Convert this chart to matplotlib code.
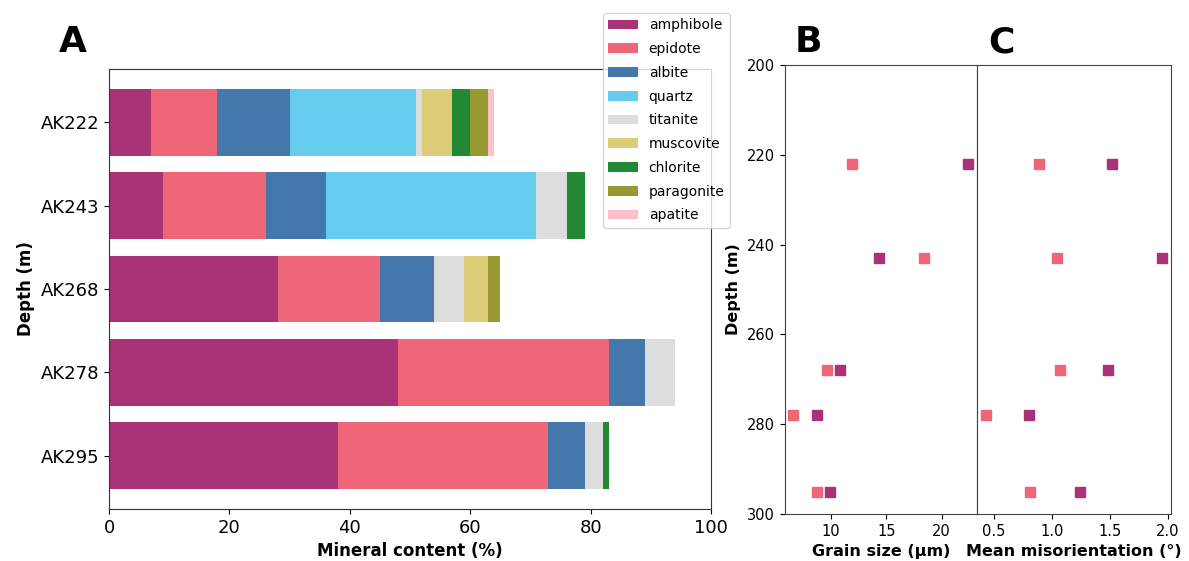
import numpy as np
import matplotlib
matplotlib.use("Agg")
import matplotlib.pyplot as plt

# mineral modes (%) per sample
samples = ['AK222', 'AK243', 'AK268', 'AK278', 'AK295']
minerals = ['amphibole', 'epidote', 'albite', 'quartz', 'titanite',
            'muscovite', 'chlorite', 'paragonite', 'apatite']
amphibole = [7, 9, 28, 48, 38]
epidote = [11, 17, 17, 35, 35]
albite = [12, 10, 9, 6, 6]
quartz = [21, 35, 0, 0, 0]
titanite = [1, 5, 5, 5, 3]
muscovite = [5, 0, 4, 0, 0]
chlorite = [3, 3, 0, 0, 1]
paragonite = [3, 0, 2, 0, 0]
apatite = [1, 0, 0, 0, 0]
colors = ['#AA3377', '#EE6677', '#4477AA', '#66CCEE', '#DDDDDD',
          '#DDCC77', '#228833', '#999933', '#FFC0CB']

# microstructure data vs depth
depth = [222, 243, 268, 278, 295]
grain_amph = [22.4, 14.3, 10.8, 8.7, 9.9]
grain_epi = [11.9, 18.4, 9.6, 6.6, 8.7]
mis_amph = [1.52, 1.95, 1.48, 0.80, 1.24]
mis_epi = [0.89, 1.04, 1.07, 0.43, 0.81]

fig = plt.figure(figsize=(11.89, 5.61), dpi=100)
axA = fig.add_axes([0.0917, 0.0927, 0.5063, 0.7843])
axB = fig.add_axes([0.660, 0.0838, 0.1617, 0.8002])
axC = fig.add_axes([0.8217, 0.0838, 0.1632, 0.8002], sharey=axB)

# A: stacked horizontal bars
data = np.array([amphibole, epidote, albite, quartz, titanite,
                 muscovite, chlorite, paragonite, apatite], dtype=float)
y = np.arange(len(samples))
left = np.zeros(len(samples))
for name, vals, c in zip(minerals, data, colors):
    axA.barh(y, vals, left=left, height=0.8, color=c, label=name)
    left += vals
axA.set_yticks(y)
axA.set_yticklabels(samples)
axA.invert_yaxis()
axA.set_xlim(0, 100)
axA.tick_params(labelsize=13)
axA.set_xlabel('Mineral content (%)', fontsize=12, fontweight='bold')
axA.set_ylabel('Depth (m)', fontsize=12, fontweight='bold')
for sp in axA.spines.values():
    sp.set_color('#333333')

handles, labels = axA.get_legend_handles_labels()
fig.legend(handles, labels, loc='upper left', bbox_to_anchor=(0.507, 0.977),
           borderaxespad=0, fontsize=10, handlelength=2.1, labelspacing=0.7)

# B: grain size
axB.plot(grain_epi, depth, 's', color='#EE6677', markersize=7)
axB.plot(grain_amph, depth, 's', color='#AA3377', markersize=7)
axB.set_ylim(300, 200)
axB.set_yticks([200, 220, 240, 260, 280, 300])
axB.set_xticks([10, 15, 20])
axB.tick_params(labelsize=10.5)
axB.set_xlabel('Grain size (µm)', fontsize=11.5, fontweight='bold')
axB.set_ylabel('Depth (m)', fontsize=11.5, fontweight='bold')

# C: mean misorientation
axC.plot(mis_epi, depth, 's', color='#EE6677', markersize=7)
axC.plot(mis_amph, depth, 's', color='#AA3377', markersize=7)
axC.set_xticks([0.5, 1.0, 1.5, 2.0])
axC.tick_params(labelsize=10.5)
axC.tick_params(axis='y', left=False, labelleft=False)
axC.set_xlabel('Mean misorientation (°)', fontsize=11.5, fontweight='bold')

for ax in (axB, axC):
    for sp in ax.spines.values():
        sp.set_color('#444444')

fig.text(0.061, 0.925, 'A', fontsize=26, fontweight='bold', ha='center', va='center')
fig.text(0.680, 0.925, 'B', fontsize=26, fontweight='bold', ha='center', va='center')
fig.text(0.842, 0.925, 'C', fontsize=26, fontweight='bold', ha='center', va='center')

fig.savefig('out.png', dpi=100)
